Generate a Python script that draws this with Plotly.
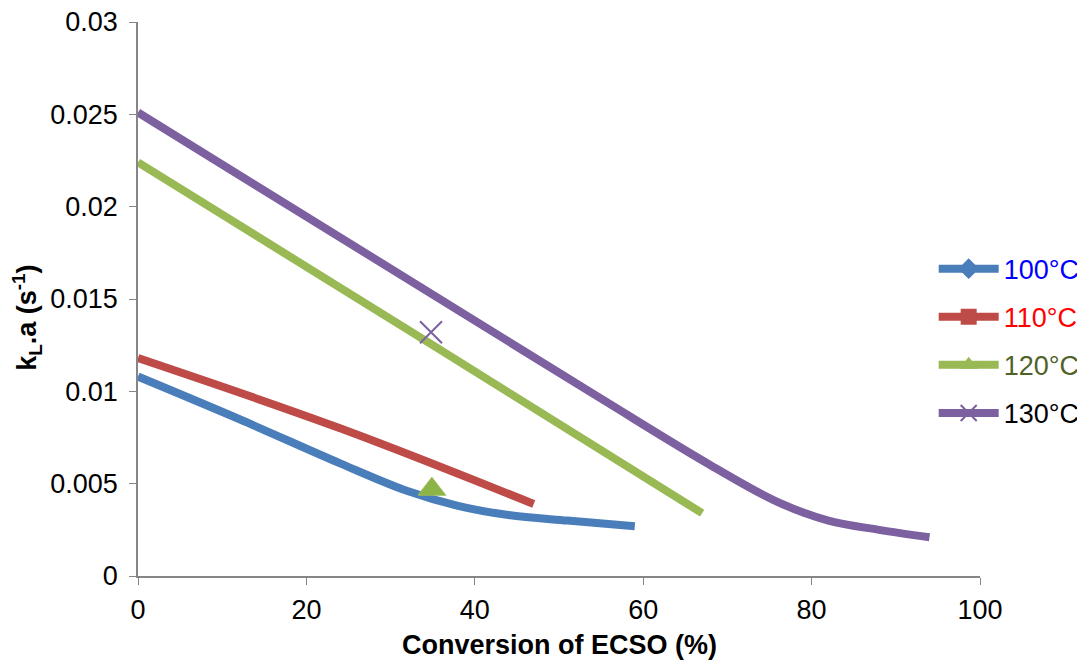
import plotly.graph_objects as go

# Data
x_100 = [0, 12, 24, 32, 38, 44, 51, 59]
y_100 = [0.0108, 0.0085, 0.0061, 0.0046, 0.0038, 0.0033, 0.0030, 0.0027]

x_110 = [0, 24, 47]
y_110 = [0.0118, 0.0080, 0.0039]

x_120 = [0, 35, 67]
y_120 = [0.0224, 0.0125, 0.0034]

x_130 = [0, 55, 68, 76, 82, 88, 94]
y_130 = [0.0251, 0.0096, 0.0060, 0.0040, 0.0030, 0.0025, 0.0021]

# stray single markers visible in the plot
marker_120_x = [34.9]
marker_120_y = [0.0047]
marker_130_x = [34.8]
marker_130_y = [0.0132]

names = ["100°C", "110°C", "120°C", "130°C"]
line_colors = ["#4A7EBB", "#BE4B48", "#98B954", "#7D60A0"]
text_colors = ["#0000FF", "#FF0000", "#4F6228", "#000000"]
symbols = ["diamond", "square", "triangle-up", "x-thin-open"]

FONT = "Liberation Sans, Arial, sans-serif"
fig = go.Figure()

series = [(x_100, y_100), (x_110, y_110), (x_120, y_120), (x_130, y_130)]
for i, (xs, ys) in enumerate(series):
    fig.add_trace(go.Scatter(
        x=xs, y=ys, mode="lines", line=dict(color=line_colors[i], width=8, shape="spline", smoothing=1.0),
        showlegend=False, hoverinfo="skip"))

fig.add_trace(go.Scatter(x=marker_120_x, y=marker_120_y, mode="markers",
                         marker=dict(symbol="triangle-up", size=24, color="#8DB447",
                                     line=dict(color="#9BBB59", width=1)),
                         showlegend=False))
fig.add_trace(go.Scatter(x=marker_130_x, y=marker_130_y, mode="markers",
                         marker=dict(symbol="x-thin-open", size=22, color="#7D60A0",
                                     line=dict(color="#7D60A0", width=2)),
                         showlegend=False))

# legend entries
for i in range(4):
    if symbols[i] == "x-thin-open":
        mk = dict(symbol="x-thin-open", size=16, color=line_colors[i], line=dict(color=line_colors[i], width=2))
    else:
        mk = dict(symbol=symbols[i], size=16, color=line_colors[i])
    fig.add_trace(go.Scatter(
        x=[None], y=[None], mode="lines+markers",
        name=f"<span style='color:{text_colors[i]}'>{names[i]}</span>",
        legendgroup=names[i],
        line=dict(color=line_colors[i], width=8), marker=mk))

fig.update_layout(
    width=1077, height=656,
    paper_bgcolor="white", plot_bgcolor="white",
    margin=dict(l=130, r=105, t=14, b=88, autoexpand=False),
    font=dict(family=FONT, size=27, color="black"),
    legend=dict(x=0.945, y=0.424, xanchor="left", yanchor="middle",
                tracegroupgap=10, bgcolor="rgba(0,0,0,0)", itemwidth=60,
                font=dict(size=27)),
    xaxis=dict(range=[0, 100], dtick=20, showline=True, linecolor="#868686", linewidth=1.5,
               ticks="outside", ticklen=7, tickcolor="#868686", showgrid=False, zeroline=False,
               automargin=False, ticklabelstandoff=2, ticklabeloverflow="allow"),
    yaxis=dict(range=[0, 0.03], dtick=0.005, showline=True, linecolor="#868686", linewidth=1.5,
               ticks="outside", ticklen=7, tickcolor="#868686", showgrid=False, zeroline=False,
               automargin=False, ticklabelstandoff=6, ticklabeloverflow="allow"),
    annotations=[
        dict(text="<b>Conversion of ECSO (%)</b>", xref="paper", yref="paper", x=0.5, y=0,
             yshift=-69, xanchor="center", yanchor="middle", showarrow=False,
             font=dict(size=27)),
        dict(text="<b>k<sub>L</sub>.a (s<sup>-1</sup>)</b>", xref="paper", yref="paper", x=0, y=0.466,
             xshift=-111, xanchor="center", yanchor="middle", textangle=-90, showarrow=False,
             font=dict(size=27)),
    ],
)

fig.write_html("out.html")
